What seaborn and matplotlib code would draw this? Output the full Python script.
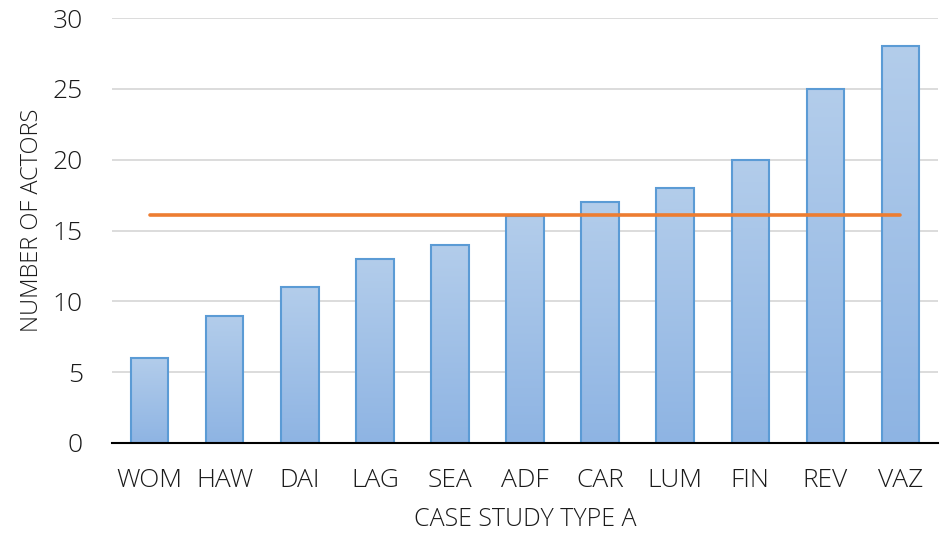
import numpy as np
import pandas as pd
import matplotlib
matplotlib.use("Agg")
import matplotlib.pyplot as plt
import seaborn as sns
from matplotlib.colors import LinearSegmentedColormap

categories = ["WOM", "HAW", "DAI", "LAG", "SEA", "ADF", "CAR", "LUM", "FIN", "REV", "VAZ"]
actors = [6, 9, 11, 13, 14, 16, 17, 18, 20, 25, 28]
y_ticks = [0, 5, 10, 15, 20, 25, 30]

sns.set_theme(style="white")
plt.rcParams['font.family'] = ['Open Sans', 'DejaVu Sans']
plt.rcParams['font.weight'] = 'light'

df = pd.DataFrame({"case": categories, "actors": actors})
mean_val = float(np.mean(actors))

fig = plt.figure(figsize=(9.4, 5.36), dpi=100)
ax = fig.add_axes([112/940, 1 - 443/536, (938 - 112)/940, (443 - 18)/536])

sns.barplot(data=df, x="case", y="actors", ax=ax, width=0.5,
            color="#A3C2E8", edgecolor="#5B9BD5", linewidth=1.5, saturation=1, zorder=2)

cmap = LinearSegmentedColormap.from_list("g", ["#8EB4E3", "#B3CDEB"])
grad = np.linspace(0, 1, 256).reshape(-1, 1)
for p in ax.patches:
    x0, y0 = p.get_x(), p.get_y()
    w, h = p.get_width(), p.get_height()
    im = ax.imshow(grad, cmap=cmap, aspect="auto", origin="lower",
                   extent=[x0, x0 + w, y0, y0 + h], zorder=2.5)
    im.set_clip_path(p)
    p.set_facecolor("none")
    p.set_zorder(3)

n = len(categories)
sns.lineplot(x=[0, n - 1], y=[mean_val, mean_val], ax=ax, color="#ED7D31",
             linewidth=2.6, zorder=4)

ax.set_xlim(-0.5, n - 0.5)
ax.set_ylim(0, 30)
ax.set_yticks(y_ticks)
ax.set_yticklabels([str(t) for t in y_ticks])
ax.yaxis.grid(True, color="#D9D9D9", linewidth=1.3, zorder=0)
ax.set_axisbelow(True)
for s in ["top", "right", "left"]:
    ax.spines[s].set_visible(False)
ax.spines["bottom"].set_color("black")
ax.spines["bottom"].set_linewidth(1.5)
ax.spines["bottom"].set_zorder(5)
ax.tick_params(axis="both", length=0, labelsize=19, colors="#1a1a1a")
ax.tick_params(axis="x", pad=18)
ax.tick_params(axis="y", pad=21)
for lbl in ax.get_xticklabels() + ax.get_yticklabels():
    lbl.set_fontweight("light")
ax.set_xlabel("CASE STUDY TYPE A", fontsize=18, color="#1a1a1a", labelpad=10, fontweight="light")
ax.set_ylabel("NUMBER OF ACTORS", fontsize=17, color="#1a1a1a", labelpad=6, fontweight="light", y=0.525)

fig.savefig("out.png", dpi=100)
